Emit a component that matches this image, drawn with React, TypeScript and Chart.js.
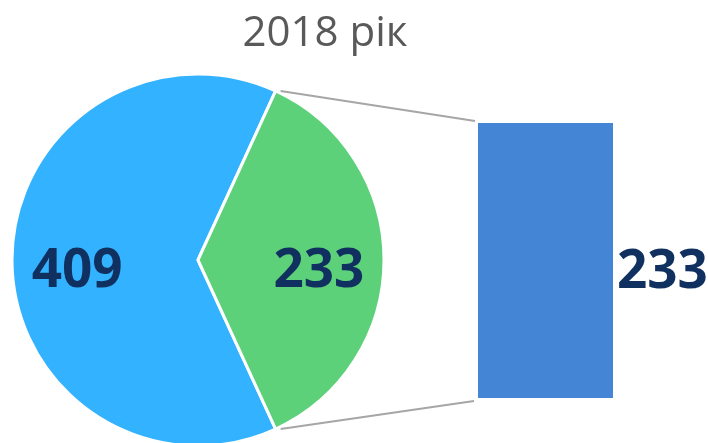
import React, { useEffect, useRef } from "react";
import { Chart, registerables } from "chart.js";

Chart.register(...registerables);

const chartTitle = "2018 рік";
const pieLabels = ["Категорія 1", "Категорія 2"];
const pieValues = [409, 233];
const barLabels = ["Категорія 2"];
const barValues = [233];

const pieColors = ["#33B3FF", "#5DD07A"];
const barColor = "#4585D5";
const labelColor = "#10305F";
const labelFont = 'bold 53px "Open Sans", "DejaVu Sans", sans-serif';

export default function App() {
  const pieRef = useRef<HTMLCanvasElement | null>(null);
  const barRef = useRef<HTMLCanvasElement | null>(null);

  useEffect(() => {
    const total = pieValues.reduce((a, b) => a + b, 0);
    const rotation = 90 - (360 * pieValues[0]) / total - (180 * pieValues[1]) / total;

    const pieLabelPlugin = {
      id: "pieLabels",
      afterDatasetsDraw(chart: any) {
        const ctx = chart.ctx;
        const meta = chart.getDatasetMeta(0);
        ctx.save();
        ctx.font = labelFont;
        ctx.fillStyle = labelColor;
        ctx.textAlign = "center";
        ctx.textBaseline = "alphabetic";
        meta.data.forEach((arc: any, i: number) => {
          const p = arc.getProps(["x", "y", "startAngle", "endAngle", "outerRadius"], true);
          const mid = (p.startAngle + p.endAngle) / 2;
          const r = p.outerRadius * 0.65;
          const x = p.x + Math.cos(mid) * r;
          const y = p.y + Math.sin(mid) * r;
          ctx.fillText(String(pieValues[i]), x, y + 27);
        });
        ctx.restore();
      },
      afterDraw(chart: any) {
        const ctx = chart.ctx;
        ctx.save();
        ctx.font = '42px "Open Sans", "DejaVu Sans", sans-serif';
        ctx.fillStyle = "#595959";
        ctx.textAlign = "center";
        ctx.textBaseline = "alphabetic";
        ctx.fillText(chartTitle, 325, 46);
        ctx.restore();
      },
    };

    const pie = new Chart(pieRef.current as HTMLCanvasElement, {
      type: "pie",
      data: {
        labels: pieLabels,
        datasets: [
          {
            data: pieValues,
            backgroundColor: pieColors,
            borderColor: "#FFFFFF",
            borderWidth: 3,
          },
        ],
      },
      options: {
        responsive: false,
        animation: false,
        rotation,
        radius: 186,
        layout: { padding: { left: 0, right: 312, top: 77, bottom: 0 } },
        plugins: {
          legend: { display: false },
          tooltip: { enabled: false },
          title: { display: false },
        },
      } as any,
      plugins: [pieLabelPlugin],
    });

    const connectorPlugin = {
      id: "connectors",
      afterDatasetsDraw(chart: any) {
        const ctx = chart.ctx;
        const bar = chart.getDatasetMeta(0).data[0].getProps(["x", "y", "base", "width"], true);
        const arc = pie.getDatasetMeta(0).data[1] as any;
        const a = arc.getProps(["x", "y", "startAngle", "endAngle", "outerRadius"], true);
        const left = bar.x - bar.width / 2;
        const right = bar.x + bar.width / 2;
        const top = Math.min(bar.y, bar.base);
        const bottom = Math.max(bar.y, bar.base);
        const p1 = { x: a.x + Math.cos(a.startAngle) * a.outerRadius, y: a.y + Math.sin(a.startAngle) * a.outerRadius };
        const p2 = { x: a.x + Math.cos(a.endAngle) * a.outerRadius, y: a.y + Math.sin(a.endAngle) * a.outerRadius };
        ctx.save();
        ctx.strokeStyle = "#A6A6A6";
        ctx.lineWidth = 2;
        ctx.beginPath();
        ctx.moveTo(p1.x + 5, p1.y);
        ctx.lineTo(left - 3, top - 2);
        ctx.moveTo(p2.x + 5, p2.y);
        ctx.lineTo(left - 4, bottom + 3);
        ctx.stroke();

        ctx.font = labelFont;
        ctx.fillStyle = labelColor;
        ctx.textAlign = "left";
        ctx.textBaseline = "alphabetic";
        ctx.fillText(String(barValues[0]), right + 4, (top + bottom) / 2 + 27);
        ctx.restore();
      },
    };

    const barChart = new Chart(barRef.current as HTMLCanvasElement, {
      type: "bar",
      data: {
        labels: barLabels,
        datasets: [
          {
            data: barValues,
            backgroundColor: barColor,
            barPercentage: 1,
            categoryPercentage: 1,
          },
        ],
      },
      options: {
        responsive: false,
        animation: false,
        layout: { padding: { left: 478, right: 95, top: 123, bottom: 45 } },
        scales: {
          x: { display: false },
          y: { display: false, min: 0, max: Math.max(...barValues) },
        },
        plugins: {
          legend: { display: false },
          tooltip: { enabled: false },
        },
      },
      plugins: [connectorPlugin],
    });

    return () => {
      barChart.destroy();
      pie.destroy();
    };
  }, []);

  const canvasStyle: React.CSSProperties = { position: "absolute", left: 0, top: 0 };
  return (
    <div style={{ position: "fixed", left: 0, top: 0, width: 708, height: 443, background: "#FFFFFF" }}>
      <canvas ref={pieRef} width={708} height={443} style={canvasStyle} />
      <canvas ref={barRef} width={708} height={443} style={canvasStyle} />
    </div>
  );
}
